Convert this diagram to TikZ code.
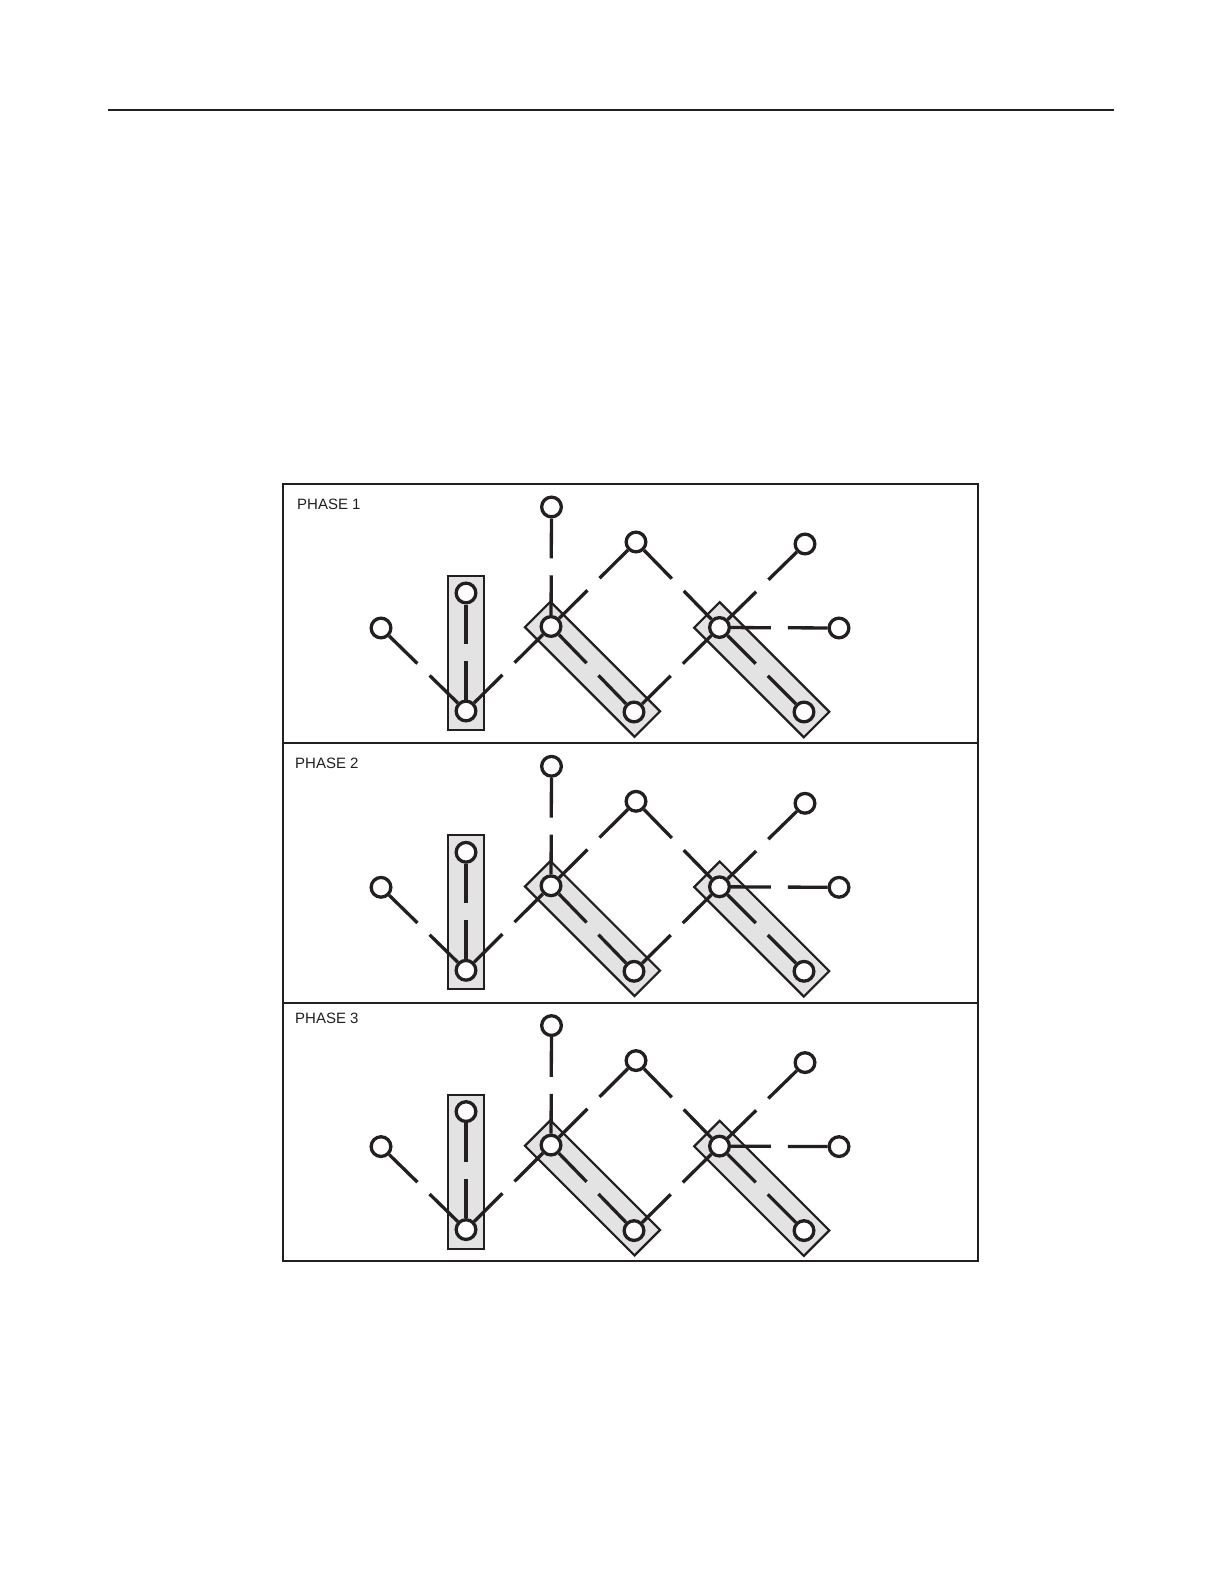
\documentclass[tikz,border=0pt]{standalone}
\usepackage{fontspec}
\setmainfont{Liberation Sans}
\usetikzlibrary{calc}
\pgfdeclarelayer{paper}
\pgfdeclarelayer{back}
\pgfdeclarelayer{mid}
\pgfsetlayers{paper,back,mid,main}
\definecolor{ink}{HTML}{231F20}
\definecolor{boxgray}{HTML}{E3E3E3}
\newcommand\gapedge[2]{%
  \draw[edgeline] (#1) -- ($(#1)!0.5!(#2)$);
  \draw[edgeline] (#2) -- ($(#1)!0.5!(#2)$);}
\tikzset{
  dot/.style={circle, draw=ink, fill=white, line width=3.3pt, inner sep=0pt, minimum size=19.7pt},
  edgeline/.style={draw=ink, line width=3.3pt, shorten >=8.5pt},
  boxshape/.style={rectangle, draw=ink, fill=boxgray, line width=2.2pt, inner sep=0pt, minimum width=36pt},
  frame/.style={draw=ink, line width=2pt},
  label/.style={anchor=base west, text=ink, inner sep=0pt, font=\fontsize{15}{18}\selectfont}
}
\begin{document}
\begin{tikzpicture}[x=1pt,y=-1pt]
\useasboundingbox (0,0) rectangle (1224,1584);
\begin{pgfonlayer}{paper}
\fill[white] (0,0) rectangle (1224,1584);
\end{pgfonlayer}
% top rule
\draw[frame] (108,110) -- (1114,110);
% panel frame
\draw[frame] (283,484) rectangle (978,1261);
\draw[frame] (283,743) -- (978,743);
\draw[frame] (283,1002.5) -- (978,1002.5);
% labels
\node[label] (L1) at (297,509) {PHASE 1};
\node[label] (L2) at (295,768) {PHASE 2};
\node[label] (L3) at (295,1023) {PHASE 3};
\foreach \p in {0,1,2} {
  \begin{scope}[shift={(0,259.3*\p)}]
    \node[dot] (A\p) at (381,628) {};
    \node[dot] (B\p) at (466,711) {};
    \node[dot] (V\p) at (466,593) {};
    \node[dot] (T\p) at (551.5,507) {};
    \node[dot] (C\p) at (551,626.5) {};
    \node[dot] (D\p) at (636,542) {};
    \node[dot] (F\p) at (634,712) {};
    \node[dot] (E\p) at (719.5,627.5) {};
    \node[dot] (G\p) at (805,544) {};
    \node[dot] (H\p) at (839,628) {};
    \node[dot] (I\p) at (804,712) {};
    \begin{pgfonlayer}{back}
      \node[boxshape, minimum height=154pt] (R\p) at ($(V\p)!0.5!(B\p)+(0,1)$) {};
      \node[boxshape, minimum height=155pt, rotate=45] (S\p) at ($(C\p)!0.5!(F\p)$) {};
      \node[boxshape, minimum height=155pt, rotate=45] (U\p) at ($(E\p)!0.5!(I\p)$) {};
    \end{pgfonlayer}
    \begin{pgfonlayer}{mid}
      \gapedge{A\p}{B\p}
      \gapedge{B\p}{V\p}
      \gapedge{B\p}{C\p}
      \gapedge{C\p}{T\p}
      \gapedge{C\p}{D\p}
      \gapedge{C\p}{F\p}
      \gapedge{D\p}{E\p}
      \gapedge{F\p}{E\p}
      \gapedge{E\p}{G\p}
      \gapedge{E\p}{H\p}
      \gapedge{E\p}{I\p}
    \end{pgfonlayer}
  \end{scope}
}
\end{tikzpicture}
\end{document}
